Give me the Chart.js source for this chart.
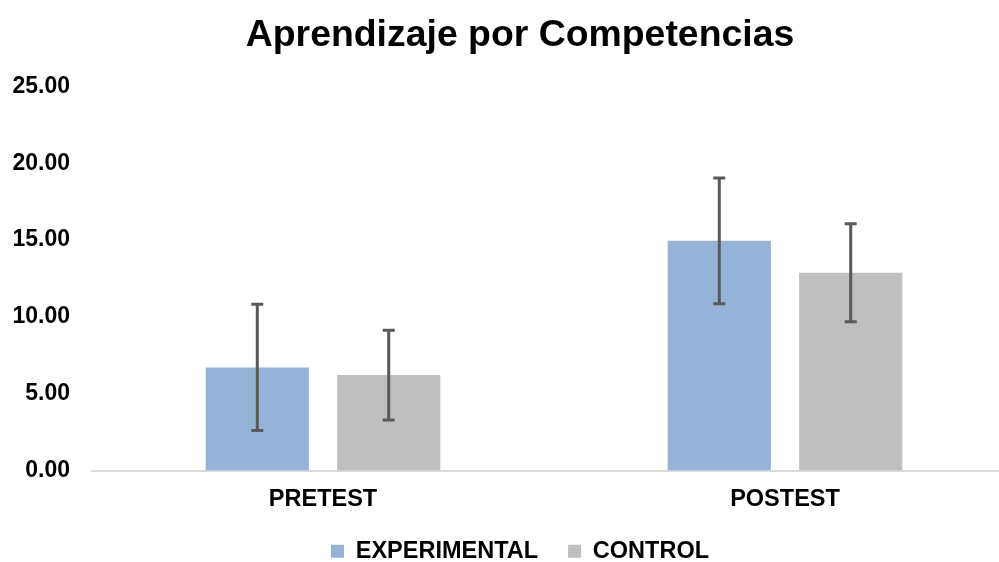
<!DOCTYPE html>
<html lang="es">
<head>
  <meta charset="UTF-8">
  <title>Aprendizaje por Competencias</title>
  <style>
    body {
      margin: 0;
      padding: 0;
      background: #fff;
      overflow: hidden;
    }
    .wrap {
      width: 1040px;
      height: 562px;
    }
  </style>
  <script src="https://cdn.jsdelivr.net/npm/chart.js"></script>
</head>
<body>
  <div class="wrap">
    <canvas id="chart" width="1040" height="562"></canvas>
  </div>

  <script>
    const categories = ['PRETEST', 'POSTEST'];
    const experimental = [6.71, 14.95];
    const control = [6.21, 12.88];
    const experimentalErr = [4.11, 4.10];
    const controlErr = [2.92, 3.19];
    const yTicks = [0, 5, 10, 15, 20, 25];

    const FONT = "Arial, 'Liberation Sans', sans-serif";

    // error bars on top of each bar
    const errorBars = {
      id: 'errorBars',
      afterDatasetsDraw(chart) {
        const ctx = chart.ctx;
        const y = chart.scales.y;
        chart.data.datasets.forEach((ds, i) => {
          const meta = chart.getDatasetMeta(i);
          meta.data.forEach((bar, j) => {
            const v = ds.data[j];
            const e = ds.errors[j];
            const top = y.getPixelForValue(v + e);
            const bottom = y.getPixelForValue(v - e);
            ctx.save();
            ctx.strokeStyle = '#595959';
            ctx.lineWidth = 3;
            ctx.beginPath();
            ctx.moveTo(bar.x, top);
            ctx.lineTo(bar.x, bottom);
            ctx.moveTo(bar.x - 6, top);
            ctx.lineTo(bar.x + 6, top);
            ctx.moveTo(bar.x - 6, bottom);
            ctx.lineTo(bar.x + 6, bottom);
            ctx.stroke();
            ctx.restore();
          });
        });
      }
    };

    new Chart(document.getElementById('chart').getContext('2d'), {
      type: 'bar',
      data: {
        labels: categories,
        datasets: [
          {
            label: 'EXPERIMENTAL',
            data: experimental,
            errors: experimentalErr,
            backgroundColor: '#95B3D7'
          },
          {
            label: 'CONTROL',
            data: control,
            errors: controlErr,
            backgroundColor: '#BFBFBF'
          }
        ]
      },
      options: {
        responsive: false,
        animation: false,
        categoryPercentage: 0.569,
        barPercentage: 0.785,
        layout: {
          padding: { left: 0, right: 0, top: 0, bottom: -11 }
        },
        plugins: {
          title: {
            display: true,
            text: 'Aprendizaje por Competencias',
            color: '#000',
            font: { family: FONT, size: 37.4, weight: 'bold' },
            padding: { top: 13, bottom: 28.6 }
          },
          legend: {
            position: 'bottom',
            labels: {
              color: '#000',
              font: { family: FONT, size: 23.5, weight: 'bold' },
              boxWidth: 13,
              boxHeight: 13,
              padding: 30
            }
          },
          tooltip: { enabled: false }
        },
        scales: {
          x: {
            grid: { display: false, drawTicks: false },
            border: { display: true, color: '#D9D9D9', width: 2 },
            ticks: {
              color: '#000',
              font: { family: FONT, size: 23.5, weight: 'bold' },
              padding: 15
            },
            afterFit(scale) { scale.height = 39; }
          },
          y: {
            min: 0,
            max: 25,
            grid: { display: false, drawTicks: false },
            border: { display: false },
            afterBuildTicks(scale) {
              scale.ticks = yTicks.map(v => ({ value: v }));
            },
            ticks: {
              color: '#000',
              font: { family: FONT, size: 23, weight: 'bold' },
              padding: 22,
              callback: v => Number(v).toFixed(2)
            },
            afterFit(scale) { scale.width = 92; }
          },
          // empty right axis, only reserves space so the plot runs past the crop
          yRight: {
            position: 'right',
            min: 0,
            max: 25,
            grid: { display: false, drawTicks: false },
            border: { display: false },
            ticks: { display: false },
            afterFit(scale) { scale.width = 24; }
          }
        }
      },
      plugins: [errorBars]
    });
  </script>
</body>
</html>
